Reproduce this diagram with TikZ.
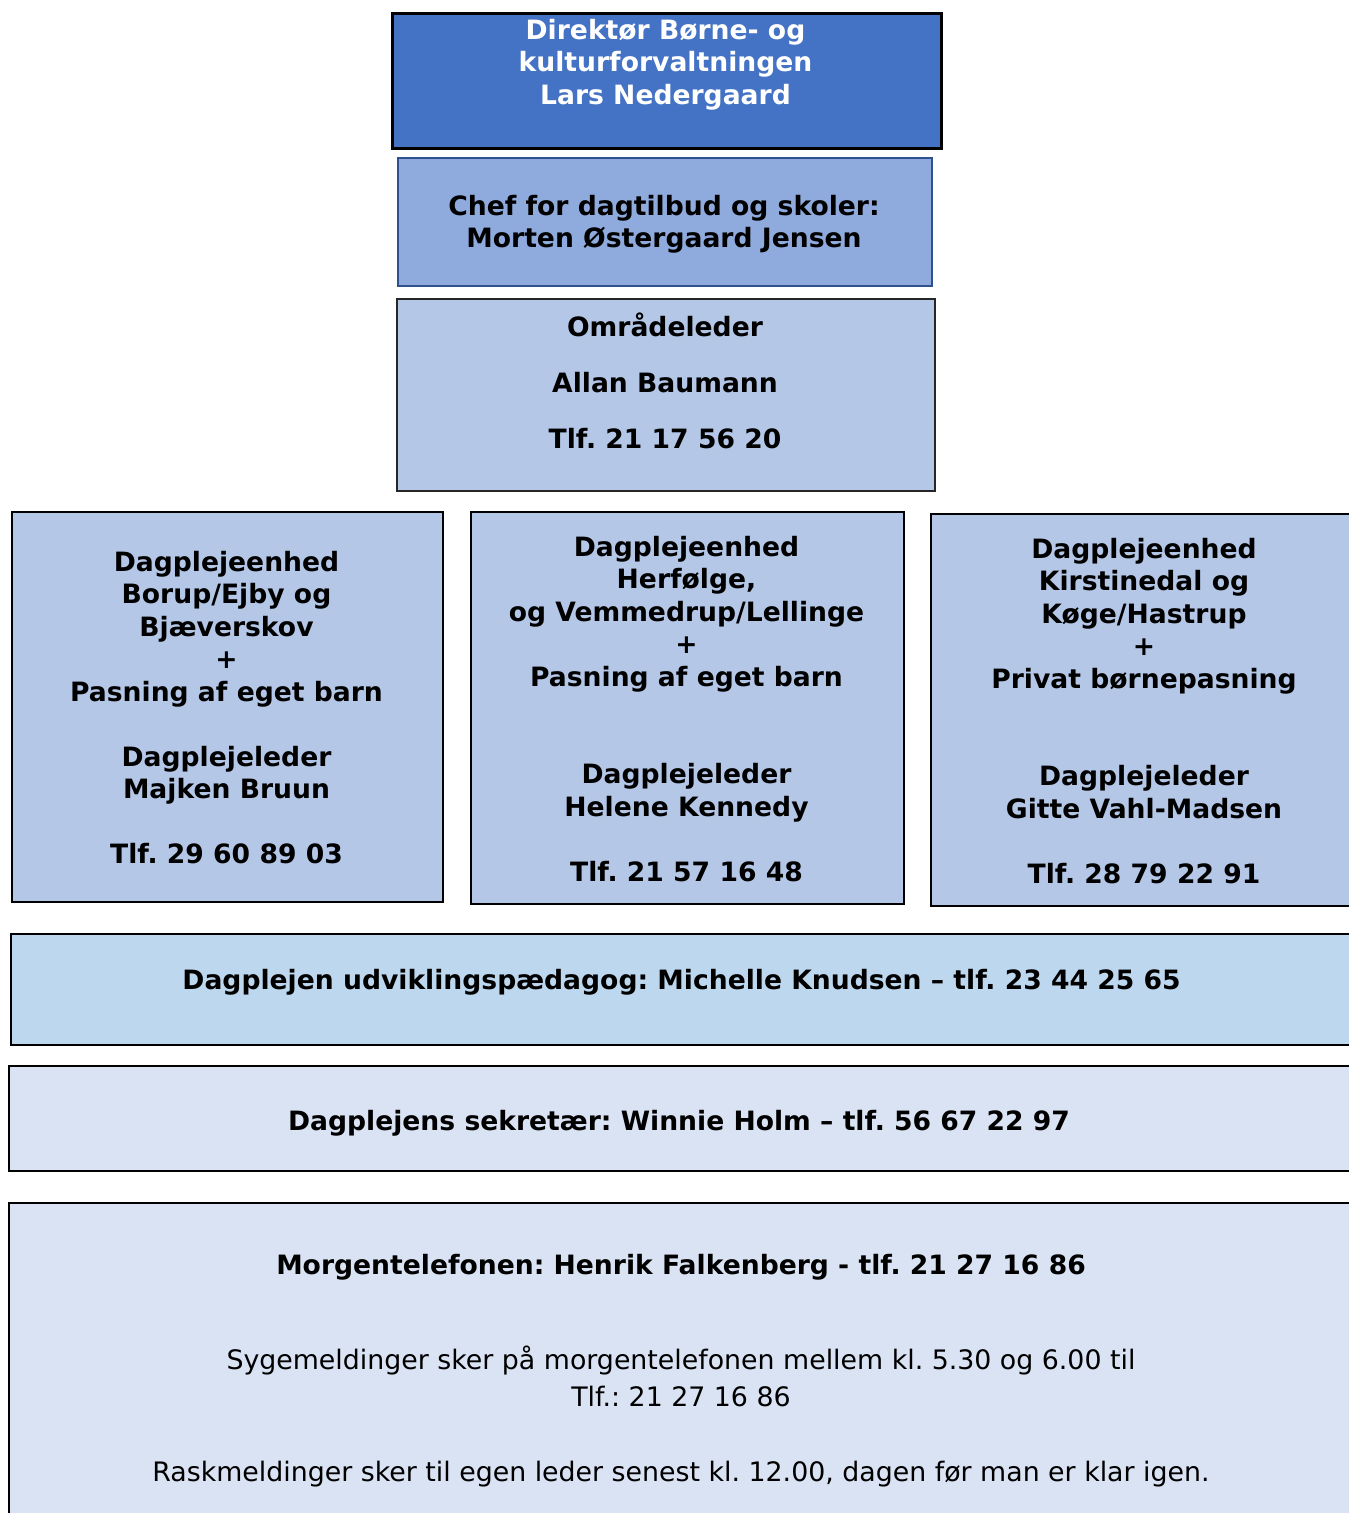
\documentclass[tikz,border=0pt]{standalone}
\usepackage{fontspec}
\setmainfont{DejaVu Sans}
\frenchspacing
\definecolor{topblue}{HTML}{4472C4}
\definecolor{chefblue}{HTML}{8FAADC}
\definecolor{chefline}{HTML}{2F528F}
\definecolor{unitblue}{HTML}{B4C7E7}
\definecolor{paleblue}{HTML}{BDD7EE}
\definecolor{lightblue}{HTML}{DAE3F3}

\begin{document}
\begin{tikzpicture}[x=1pt,y=-1pt,
  box/.style={draw=black, line width=2pt, anchor=north west, inner sep=0pt},
  boldtxt/.style={anchor=north, align=center, inner sep=0pt,
    font=\bfseries\fontsize{26.6}{32.5}\selectfont, execute at begin node=\strut},
  plaintxt/.style={anchor=north, align=center, inner sep=0pt,
    font=\fontsize{26.8}{37}\selectfont, execute at begin node=\strut}]
  \useasboundingbox (0,0) rectangle (1349,1513);
  \clip (0,0) rectangle (1349,1513);
  % boxes
  \node[box, fill=topblue, line width=2.5pt, minimum width=549pt, minimum height=135pt] (dir) at (391,12) {};
  \node[box, fill=chefblue, draw=chefline, minimum width=534pt, minimum height=128pt] (chef) at (397,157) {};
  \node[box, fill=unitblue, draw=black!85, minimum width=538pt, minimum height=192pt] (omr) at (396,298) {};
  \node[box, fill=unitblue, minimum width=431pt, minimum height=390pt] (borup) at (11,511) {};
  \node[box, fill=unitblue, minimum width=433pt, minimum height=392pt] (herf) at (470,511) {};
  \node[box, fill=unitblue, minimum width=428pt, minimum height=392pt] (koege) at (930,513) {};
  \node[box, fill=paleblue, minimum width=1343pt, minimum height=111pt] (udv) at (10,933) {};
  \node[box, fill=lightblue, minimum width=1342pt, minimum height=105pt] (sekr) at (8,1065) {};
  \node[box, fill=lightblue, minimum width=1346pt, minimum height=330pt] (morgen) at (8,1202) {};
  % texts
  \node[boldtxt, text=white] (dirtxt) at (665.5,19) {Direktør Børne- og\\kulturforvaltningen\\Lars Nedergaard};
  \node[boldtxt] (cheftxt) at (664,195) {Chef for dagtilbud og skoler:\\Morten Østergaard Jensen};
  \node[boldtxt] (omrtxt) at (665,313) {Områdeleder\\[23.5pt]Allan Baumann\\[23.5pt]Tlf. 21 17 56 20};
  \node[boldtxt] (boruptxt) at (226.5,551) {Dagplejeenhed\\Borup/Ejby og\\Bjæverskov\\+\\Pasning af eget barn\\[32.5pt]Dagplejeleder\\Majken Bruun\\[32.5pt]Tlf. 29 60 89 03};
  \node[boldtxt] (herftxt) at (686.5,536) {Dagplejeenhed\\Herfølge,\\og Vemmedrup/Lellinge\\+\\Pasning af eget barn\\[65pt]Dagplejeleder\\Helene Kennedy\\[32.5pt]Tlf. 21 57 16 48};
  \node[boldtxt] (koegetxt) at (1144,538) {Dagplejeenhed\\Kirstinedal og\\Køge/Hastrup\\+\\Privat børnepasning\\[65pt]Dagplejeleder\\Gitte Vahl-Madsen\\[32.5pt]Tlf. 28 79 22 91};
  \node[boldtxt] (udvtxt) at (681.5,967) {Dagplejen udviklingspædagog: Michelle Knudsen – tlf. 23 44 25 65};
  \node[boldtxt] (sekrtxt) at (679,1108) {Dagplejens sekretær: Winnie Holm – tlf. 56 67 22 97};
  \node[boldtxt] (morgentxt) at (681,1252) {Morgentelefonen: Henrik Falkenberg - tlf. 21 27 16 86};
  \node[plaintxt] (sygtxt) at (681,1346) {Sygemeldinger sker på morgentelefonen mellem kl. 5.30 og 6.00 til\\Tlf.: 21 27 16 86\\[38pt]Raskmeldinger sker til egen leder senest kl. 12.00, dagen før man er klar igen.};
\end{tikzpicture}
\end{document}
